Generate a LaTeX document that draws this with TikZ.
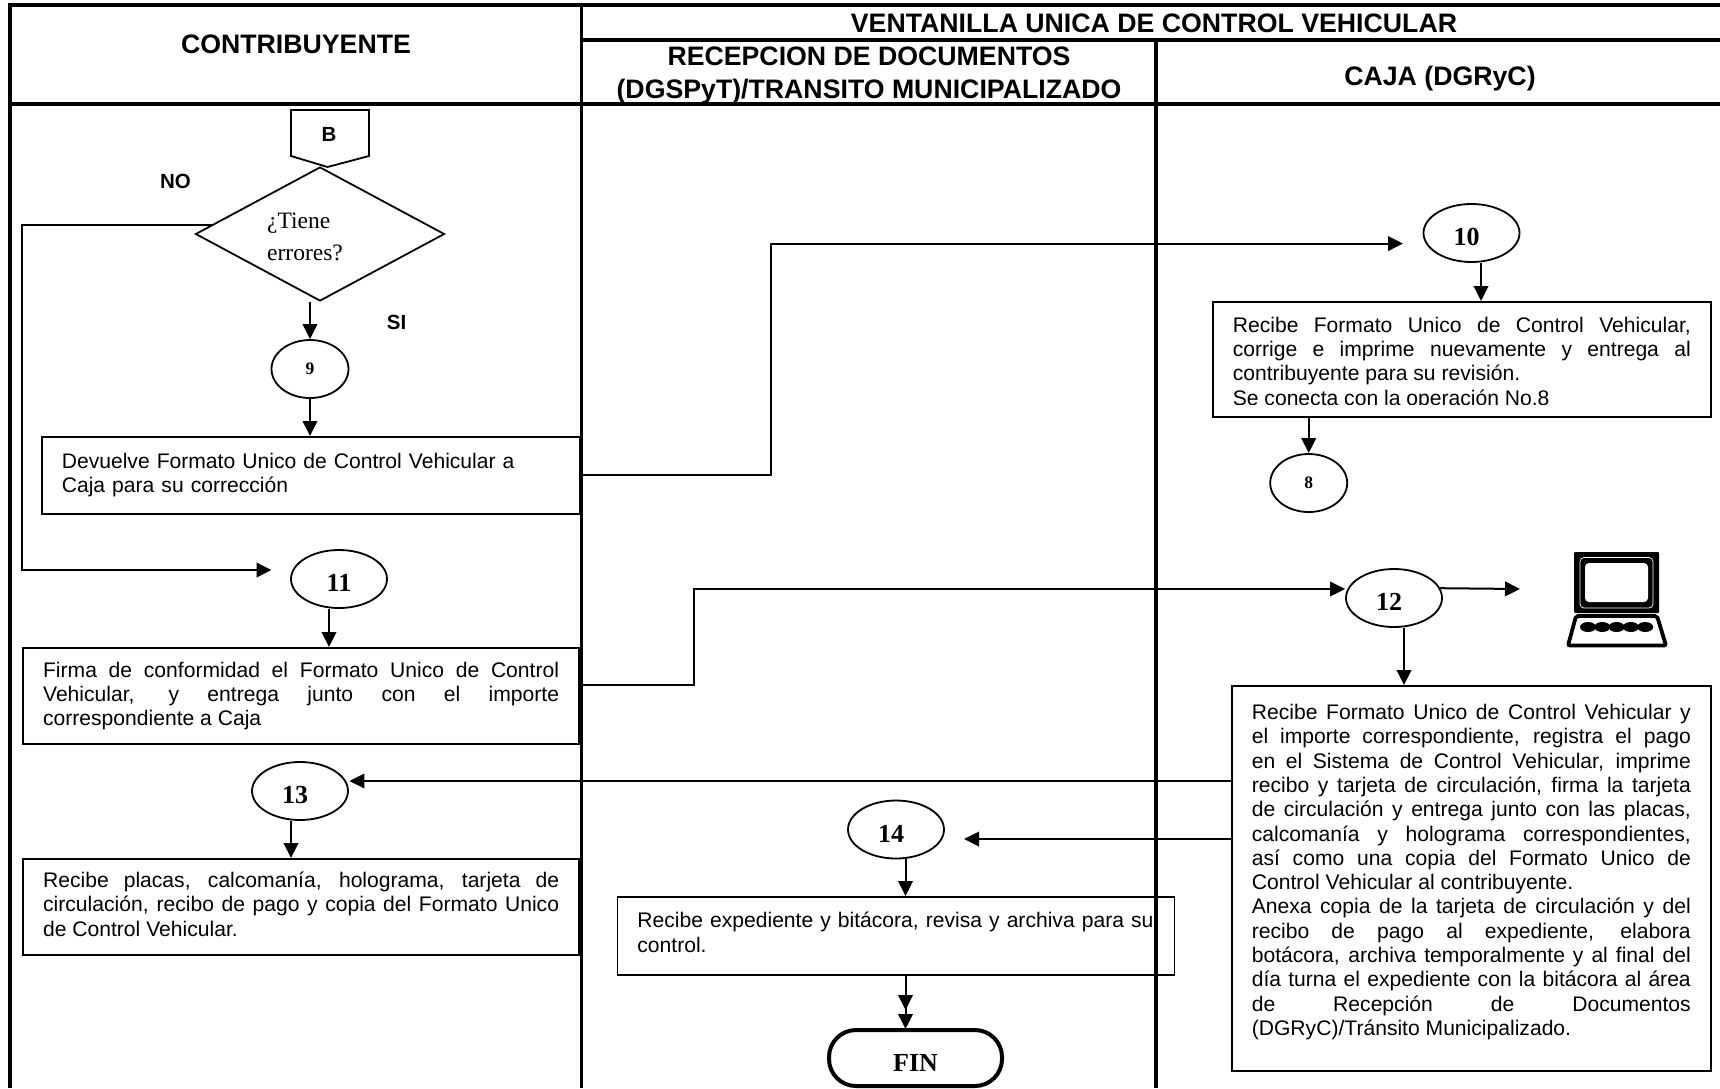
\documentclass[tikz,border=0pt]{standalone}
\usepackage{fontspec}
\setmainfont{Liberation Sans}
\newfontfamily\timesfont{Liberation Serif}
\usepackage{tikz}
\usetikzlibrary{arrows.meta, shapes.geometric, positioning}
\tikzset{
    lane/.style={line width=3.5pt},
    head/.style={font=\bfseries\fontsize{26.7}{33}\selectfont, align=center, inner sep=0pt},
    flag/.style={font=\bfseries\fontsize{20.5}{24}\selectfont, inner sep=0pt},
    flow/.style={line width=2pt, -{Triangle[length=15pt,width=14.5pt]}},
    wire/.style={line width=2pt},
    opbox/.style={draw, line width=1.6pt, anchor=north west, inner xsep=20pt, inner ysep=0pt,
        align=justify, font=\fontsize{21.1}{24.3}\selectfont},
    bigcirc/.style={draw, ellipse, line width=1.8pt, minimum width=96pt, minimum height=58pt, inner sep=0pt,
        font=\timesfont\bfseries\fontsize{26}{26}\selectfont, text height=25pt, text depth=0pt},
    smallcirc/.style={draw, ellipse, line width=1.8pt, minimum width=77pt, minimum height=58pt, inner sep=0pt,
        font=\timesfont\bfseries\fontsize{17.5}{18}\selectfont},
}

\begin{document}
\begin{tikzpicture}[x=1pt, y=-1pt]
    \useasboundingbox (0,0) rectangle (1720,1088);

    % Lanes and header rules
    \draw[lane] (9.9,1088) -- (9.9,5.2) -- (1720,5.2);
    \draw[lane] (581.5,5.2) -- (581.5,1088);
    \draw[lane] (1156,40) -- (1156,1088);
    \draw[lane] (581.5,40) -- (1720,40);
    \draw[lane] (8,104) -- (1720,104);

    % Header labels
    \node[head] (hcontrib) at (296,44) {CONTRIBUYENTE};
    \node[head] (hventana) at (1154,23) {VENTANILLA UNICA DE CONTROL VEHICULAR};
    \node[head] (hrecep) at (869,75) {RECEPCION DE DOCUMENTOS\\(DGSPyT)/TRANSITO MUNICIPALIZADO};
    \node[head] (hcaja) at (1440,79) {CAJA (DGRyC)};

    % Off-page tag
    \draw[line width=1.8pt] (291,110) -- (369,110) -- (369,156) -- (327.5,167) -- (291,156) -- cycle;
    \node[flag] (tagb) at (329,134) {B};

    % Decision
    \node[draw, diamond, line width=1.8pt, minimum width=249pt, minimum height=134pt, inner sep=0pt] (dec) at (320,234) {};
    \node[anchor=west, align=left, inner sep=0pt, font=\timesfont\fontsize{23.5}{31.5}\selectfont] (dectext) at (267,237) {¿Tiene\\errores?};
    \node[flag] (lno) at (175.5,181) {NO};
    \node[flag] (lsi) at (396.6,322) {SI};

    % Contribuyente column
    \node[smallcirc] (nine) at (310,369) {9};
    \node[opbox, text width=498pt, minimum height=77pt, align=left] (dev) at (41,436) {Devuelve Formato Unico de Control Vehicular a\\Caja para su corrección};
    \node[bigcirc] (eleven) at (339,579) {11};
    \node[opbox, line width=2.2pt, text width=516pt, minimum height=96pt] (firma) at (22,647) {Firma de conformidad el Formato Unico de Control\linebreak Vehicular, y entrega junto con el importe\linebreak correspondiente a Caja};
    \node[bigcirc] (thirteen) at (300,791) {\hspace*{-10pt}13};
    \node[opbox, line width=2.2pt, text width=516pt, minimum height=96pt] (placas) at (22,858) {Recibe placas, calcomanía, holograma, tarjeta de\linebreak circulación, recibo de pago y copia del Formato Unico\linebreak de Control Vehicular.\rule[-6pt]{0pt}{0pt}};

    % Recepcion column
    \node[bigcirc] (fourteen) at (896,829.5) {\hspace*{-10pt}14};
    \node[opbox, text width=517pt, minimum height=78pt, align=left] (exped) at (616.6,896) {\mbox{Recibe expediente y bitácora, revisa y archiva para su}\\control.\rule[-7pt]{0pt}{0pt}};
    \node[draw, line width=4pt, rounded corners=27pt, minimum width=173pt, minimum height=56pt, inner sep=0pt,
        font=\timesfont\bfseries\fontsize{26}{26}\selectfont, text height=27pt, text depth=0pt] (fin) at (915.5,1058) {FIN};

    % Caja column
    \node[bigcirc] (ten) at (1471.5,233) {\hspace*{-10pt}10};
    \node[opbox, text width=458pt, minimum height=115pt] (corrige) at (1212,301) {\rule{0pt}{23pt}Recibe Formato Unico de Control Vehicular,\linebreak corrige e imprime nuevamente y entrega al\linebreak contribuyente para su revisión.\\Se conecta con la operación No.8};
    \fill[white] (1225,405) rectangle (1700,415);
    \node[smallcirc] (eight) at (1308.7,483) {8};
    \node[bigcirc] (twelve) at (1394,598) {\hspace*{-10pt}12};
    \node[opbox, text width=439pt, minimum height=385pt] (caja) at (1231,685) {Recibe Formato Unico de Control Vehicular y\linebreak el importe correspondiente, registra el pago\linebreak en el Sistema de Control Vehicular, imprime\linebreak recibo y tarjeta de circulación, firma la tarjeta\linebreak de circulación y entrega junto con las placas,\linebreak calcomanía y holograma correspondientes,\linebreak así como una copia del Formato Unico de\linebreak Control Vehicular al contribuyente.\\Anexa copia de la tarjeta de circulación y del\linebreak recibo de pago al expediente, elabora\linebreak botácora, archiva temporalmente y al final del\linebreak día turna el expediente con la bitácora al área\linebreak de Recepción de Documentos\linebreak (DGRyC)/Tránsito Municipalizado.\rule[-17pt]{0pt}{0pt}};

    % Computer
    \fill[rounded corners=1pt] (1574,552) rectangle (1659,613);
    \draw[white, line width=0.7pt, rounded corners=4pt] (1580,557.5) rectangle (1653,608);
    \fill[white, rounded corners=4pt] (1585,563) rectangle (1648,602);
    \draw[line width=3.8pt, rounded corners=2pt] (1576,616) -- (1657,616) -- (1666,645.5) -- (1568,645.5) -- cycle;
    \foreach \k in {0,...,4} {
        \fill (1588+\k*14.3,627) ellipse (8pt and 5pt);
    }

    % Free ends of connectors
    \coordinate (noleft) at (22,570);
    \coordinate (elevenin) at (271.5,570);
    \coordinate (tenbend) at (771,243.6);
    \coordinate (tenin) at (1403,243.6);
    \coordinate (firmaout) at (579,685);
    \coordinate (twelvebend) at (694,589);
    \coordinate (compin) at (1520,589);
    \coordinate (thirteenin) at (349.4,781);
    \coordinate (fourteenin) at (964,839);
    \coordinate (finin) at (905.5,1029);

    % Connectors
    \draw[flow] (nine.north |- dec.south) -- (nine.north);
    \draw[flow] (nine.south) -- (nine.south |- dev.north);
    \draw[flow] (dec.175) -| (noleft) -- (elevenin);
    \draw[flow] (dev.east) -| (tenbend) -- (tenin);
    \draw[flow] ([xshift=9.5pt]ten.south) -- ([xshift=9.5pt]ten.south |- corrige.north);
    \draw[flow] (eight.north |- corrige.south) -- (eight.north);
    \draw[flow] ([xshift=-10pt]eleven.south) -- ([xshift=-10pt]eleven.south |- firma.north);
    \draw[flow] (firmaout) -| (twelvebend) -- (twelve.west |- twelvebend);
    \draw[flow] (twelve.12) -- (compin);
    \draw[flow] ([xshift=10pt]twelve.south) -- ([xshift=10pt]twelve.south |- caja.north);
    \draw[flow] (caja.west |- thirteenin) -- (thirteenin);
    \draw[flow] ([xshift=-9pt]thirteen.south) -- ([xshift=-9pt]thirteen.south |- placas.north);
    \draw[flow] (caja.west |- fourteenin) -- (fourteenin);
    \draw[flow] ([xshift=9.5pt]fourteen.south) -- ([xshift=9.5pt]fourteen.south |- exped.north);
    \draw[wire, -{Triangle[length=15pt,width=14.5pt,sep=4pt]Triangle[length=15pt,width=14.5pt]}] (finin |- exped.south) -- (finin);
\end{tikzpicture}
\end{document}
